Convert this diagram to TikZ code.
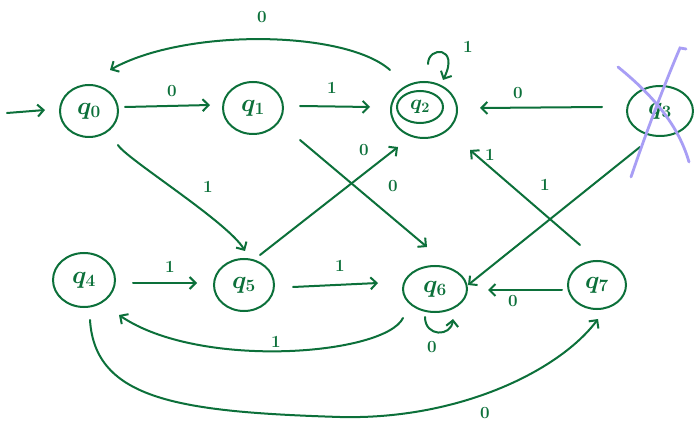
\documentclass[tikz,border=0pt]{standalone}
\usetikzlibrary{arrows.meta,shapes.geometric,calc}
\definecolor{ink}{RGB}{12,112,58}
\definecolor{crossc}{RGB}{168,158,245}
\begin{document}
\begin{tikzpicture}[x=1pt,y=-1pt,
 state/.style={draw=ink, line width=2pt, ellipse, inner sep=0pt, text=ink, font=\fontsize{26}{26}\selectfont\boldmath},
 edge/.style={draw=ink, line width=2pt, line cap=round, line join=round, -{Straight Barb[length=6pt,width=12pt]}},
 lbl/.style={text=ink, font=\fontsize{17}{17}\selectfont\bfseries, inner sep=0pt},
 xstroke/.style={draw=crossc, line width=2.8pt, line cap=round}]
\fill[white] (0,0) rectangle (694,422);
\useasboundingbox (0,0) rectangle (694,422);

% states
\node[state, minimum width=58pt, minimum height=52pt] (q0) at (89,111) {$q_0$};
\node[state, minimum width=60pt, minimum height=52pt] (q1) at (253,108) {$q_1$};
\node[state, minimum width=66pt, minimum height=56pt] (q2) at (424,110) {};
\node[state, minimum width=66pt, minimum height=50pt] (q3) at (660,111) {$q_3$};
\node[state, minimum width=62pt, minimum height=54pt] (q4) at (84,280) {$q_4$};
\node[state, minimum width=60pt, minimum height=52pt] (q5) at (244,285) {$q_5$};
\node[state, minimum width=64pt, minimum height=46pt] (q6) at (435,289) {$q_6$};
\node[state, minimum width=58pt, minimum height=48pt] (q7) at (597,285) {$q_7$};
% accepting inner ring of q2
\draw[ink, line width=2pt] ($(q2)+(-4,-3)$) ellipse [x radius=23pt, y radius=16pt];
\node[text=ink, font=\fontsize{22}{22}\selectfont\boldmath, inner sep=0pt] (q2t) at ($(q2)+(-4,-3)$) {$q_2$};

% start arrow
\coordinate (s) at (7,113);
\draw[edge] (s) -- ($(q0)+(-44,-1)$);

% straight edges
\draw[edge] ($(q0)+(36,-4)$) -- ($(q1)+(-43,-3)$);
\draw[edge] ($(q1)+(47,-2)$) -- ($(q2)+(-54,-3)$);
\draw[edge] ($(q3)+(-58,-4)$) -- ($(q2)+(56,-2)$);
\draw[edge] ($(q5)+(16,-30)$) -- ($(q2)+(-26,37)$);
\draw[edge] ($(q1)+(47,32)$) -- ($(q6)+(-8,-42)$);
\draw[edge] ($(q7)+(-17,-40)$) -- ($(q2)+(46,40)$);
\draw[edge] ($(q3)+(-20,36)$) -- ($(q6)+(33,-4)$);
\draw[edge] ($(q4)+(49,3)$) -- ($(q5)+(-47,-2)$);
\draw[edge] ($(q5)+(49,2)$) -- ($(q6)+(-57,-6)$);
\draw[edge] ($(q7)+(-35,5)$) -- ($(q6)+(53,1)$);

% curved edges
\draw[edge] ($(q2)+(-34,-40)$) .. controls (345,30) and (185,28) .. ($(q0)+(21,-41)$);
\draw[edge] ($(q0)+(29,34)$) .. controls (125,158) and (228,222) .. ($(q5)+(1,-34)$);
\draw[edge] ($(q6)+(-32,29)$) .. controls (385,355) and (200,370) .. ($(q4)+(35,35)$);
\draw[edge] ($(q4)+(6,40)$) .. controls (95,400) and (180,412) .. (340,417)
             .. controls (460,420) and (560,370) .. ($(q7)+(1,34)$);

% self loops
\draw[edge] ($(q2)+(4,-46)$) .. controls ($(q2)+(4,-64)$) and ($(q2)+(36,-64)$) .. ($(q2)+(19,-30)$);
\draw[edge] ($(q6)+(-10,28)$) .. controls ($(q6)+(-10,48)$) and ($(q6)+(16,48)$) .. ($(q6)+(18,30)$);

% labels
\node[lbl] (l20) at (262,17) {0};
\node[lbl] (l01) at (172,91) {0};
\node[lbl] (l12) at (332,88) {1};
\node[lbl] (l22) at (468,47) {1};
\node[lbl] (l32) at (518,93) {0};
\node[lbl] (l05) at (208,187) {1};
\node[lbl] (l52) at (364,150) {0};
\node[lbl] (l16) at (393,186) {0};
\node[lbl] (l72) at (490,155) {1};
\node[lbl] (l36) at (545,185) {1};
\node[lbl] (l45) at (170,267) {1};
\node[lbl] (l56) at (340,266) {1};
\node[lbl] (l66) at (432,347) {0};
\node[lbl] (l76) at (513,301) {0};
\node[lbl] (l64) at (276,342) {1};
\node[lbl] (l47) at (485,413) {0};

% purple cross over q3
\draw[xstroke] ($(q3)+(-42,-44)$) .. controls ($(q3)+(0,-10)$) and ($(q3)+(20,20)$) .. ($(q3)+(29,51)$);
\draw[xstroke] ($(q3)+(-29,66)$) .. controls ($(q3)+(-10,10)$) and ($(q3)+(10,-40)$) .. ($(q3)+(20,-63)$) -- ($(q3)+(26,-62)$);
\end{tikzpicture}
\end{document}
